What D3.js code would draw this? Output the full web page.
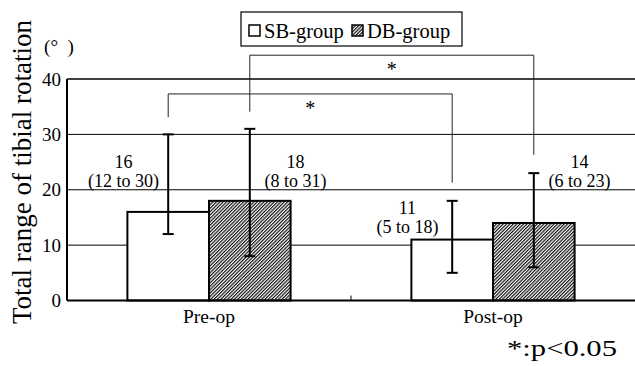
<!DOCTYPE html>
<html>
<head>
<meta charset="utf-8">
<script src="https://cdn.jsdelivr.net/npm/d3@7"></script>
<style>
  body { margin: 0; background: #fff; }
  svg { display: block; }
</style>
</head>
<body>
<div id="chart"></div>
<script>
// values (median, range)
var categories = ["Pre-op", "Post-op"];
var groups = ["SB-group", "DB-group"];
var medianSB = [16, 11];
var medianDB = [18, 14];
var lowSB = [12, 5];
var lowDB = [8, 6];
var highSB = [30, 18];
var highDB = [31, 23];
var yTicks = [0, 10, 20, 30, 40];
var sigGroups = ["SB-group", "DB-group"]; // pre vs post, p<0.05 for both

// build rows for drawing
var rows = [];
categories.forEach(function(c, i) {
  rows.push({cat: c, grp: "SB-group", v: medianSB[i], lo: lowSB[i], hi: highSB[i]});
  rows.push({cat: c, grp: "DB-group", v: medianDB[i], lo: lowDB[i], hi: highDB[i]});
});

var FONT = "'Liberation Serif', 'Times New Roman', serif";
var W = 635, H = 366;
var plot = {left: 67, right: 635, top: 79, bottom: 300.5};

var svg = d3.select("#chart").append("svg")
  .attr("width", W).attr("height", H)
  .attr("font-family", FONT);

// hatch for the DB bars
var defs = svg.append("defs");
var pat = defs.append("pattern")
  .attr("id", "hatch")
  .attr("patternUnits", "userSpaceOnUse")
  .attr("width", 2.4).attr("height", 2.4)
  .attr("patternTransform", "rotate(45)");
pat.append("rect").attr("width", 2.4).attr("height", 2.4).attr("fill", "#fff");
pat.append("line").attr("x1", 0).attr("y1", 0).attr("x2", 0).attr("y2", 2.4)
  .attr("stroke", "#111").attr("stroke-width", 2.4);

// scales
var x = d3.scaleBand().domain(categories).range([plot.left, plot.right]);
var x1 = d3.scaleBand().domain(groups).range([0, x.bandwidth()]).paddingOuter(0.74);
var y = d3.scaleLinear().domain([0, 40]).range([plot.bottom, plot.top]);

function barX(d) { return x(d.cat) + x1(d.grp); }
function barMid(d) { return barX(d) + x1.bandwidth() / 2; }

function addText(sel, size) {
  return sel.append("text")
    .attr("font-family", FONT)
    .attr("font-size", size)
    .attr("fill", "#000");
}

// grid lines
svg.append("g").selectAll("line")
  .data(yTicks.filter(function(t) { return t > 0; }))
  .enter().append("line")
  .attr("x1", plot.left).attr("x2", plot.right)
  .attr("y1", function(d) { return y(d); }).attr("y2", function(d) { return y(d); })
  .attr("stroke", "#000")
  .attr("stroke-width", function(d) { return d === 40 ? 1.6 : 1; });

// y tick labels
yTicks.forEach(function(t) {
  addText(svg, 19)
    .attr("x", plot.left - 6)
    .attr("y", y(t) + 6.5)
    .attr("text-anchor", "end")
    .text(t);
});

// y axis title + unit
addText(svg, 27)
  .attr("transform", "translate(31," + 172 + ") rotate(-90)")
  .attr("text-anchor", "middle")
  .text("Total range of tibial rotation");

addText(svg, 19)
  .attr("x", 59).attr("y", 53)
  .attr("text-anchor", "middle")
  .style("white-space", "pre")
  .text("(°  )");

// bars
svg.append("g").selectAll("rect")
  .data(rows)
  .enter().append("rect")
  .attr("x", barX)
  .attr("y", function(d) { return y(d.v); })
  .attr("width", x1.bandwidth())
  .attr("height", function(d) { return y(0) - y(d.v); })
  .attr("fill", function(d) { return d.grp === "SB-group" ? "#fff" : "url(#hatch)"; })
  .attr("stroke", "#000")
  .attr("stroke-width", 2);

// axes lines
svg.append("line")
  .attr("x1", plot.left).attr("x2", plot.left)
  .attr("y1", y(40)).attr("y2", y(0))
  .attr("stroke", "#000").attr("stroke-width", 2);
svg.append("line")
  .attr("x1", plot.left).attr("x2", plot.right)
  .attr("y1", y(0)).attr("y2", y(0))
  .attr("stroke", "#000").attr("stroke-width", 2.2);

// small tick between categories
svg.append("line")
  .attr("x1", x("Post-op")).attr("x2", x("Post-op"))
  .attr("y1", y(0) - 5).attr("y2", y(0))
  .attr("stroke", "#000").attr("stroke-width", 1);

// category labels
categories.forEach(function(c) {
  addText(svg, 19.5)
    .attr("x", x(c) + x.bandwidth() / 2)
    .attr("y", 323)
    .attr("text-anchor", "middle")
    .text(c);
});

// error bars (range)
var eb = svg.append("g").attr("stroke", "#000").attr("stroke-width", 2);
rows.forEach(function(d) {
  var cx = barMid(d);
  eb.append("line").attr("x1", cx).attr("x2", cx).attr("y1", y(d.hi)).attr("y2", y(d.lo));
  eb.append("line").attr("x1", cx - 5.5).attr("x2", cx + 5.5).attr("y1", y(d.hi)).attr("y2", y(d.hi));
  eb.append("line").attr("x1", cx - 5.5).attr("x2", cx + 5.5).attr("y1", y(d.lo)).attr("y2", y(d.lo));
});

// value labels: median on top, range below
var labelLevel = [20.55, 20.55, 12.2, 20.55]; // where the second line sits, in axis units
rows.forEach(function(d, i) {
  var lx = d.grp === "SB-group" ? barX(d) - 4 : barX(d) + x1.bandwidth() + 5;
  var by = y(labelLevel[i]);
  addText(svg, 18).attr("x", lx).attr("y", by - 18.5)
    .attr("text-anchor", "middle").text(d.v);
  addText(svg, 18).attr("x", lx).attr("y", by)
    .attr("text-anchor", "middle").text("(" + d.lo + " to " + d.hi + ")");
});

// significance brackets (pre vs post within each group)
var bracketLevel = {"SB-group": 37.3, "DB-group": 44.3};
var br = svg.append("g");
sigGroups.forEach(function(g) {
  var a = rows.filter(function(r) { return r.grp === g && r.cat === "Pre-op"; })[0];
  var b = rows.filter(function(r) { return r.grp === g && r.cat === "Post-op"; })[0];
  var ly = y(bracketLevel[g]);
  var x0 = barMid(a), x2 = barMid(b);
  br.append("path")
    .attr("d", "M" + x0 + "," + y(a.hi + 3.1) + "V" + ly + "H" + x2 + "V" + y(b.hi + 3.3))
    .attr("fill", "none")
    .attr("stroke", "#222")
    .attr("stroke-width", 1);
  addText(br, 20)
    .attr("x", (x0 + x2) / 2)
    .attr("y", ly + 21)
    .attr("text-anchor", "middle")
    .text("*");
});

// legend
var lg = svg.append("g");
lg.append("rect")
  .attr("x", 241).attr("y", 12).attr("width", 221).attr("height", 34)
  .attr("fill", "#fff").attr("stroke", "#000").attr("stroke-width", 1.2);
var legX = [249, 352];
groups.forEach(function(g, i) {
  lg.append("rect")
    .attr("x", legX[i]).attr("y", 25).attr("width", 11).attr("height", 11)
    .attr("fill", i === 0 ? "#fff" : "url(#hatch)")
    .attr("stroke", "#000").attr("stroke-width", 1.5);
  addText(lg, 20.5)
    .attr("x", legX[i] + 15).attr("y", 37.5)
    .text(g);
});

// footnote
addText(svg, 24)
  .attr("x", 507).attr("y", 356)
  .attr("textLength", 110)
  .attr("lengthAdjust", "spacingAndGlyphs")
  .text("*:p<0.05");
</script>
</body>
</html>
